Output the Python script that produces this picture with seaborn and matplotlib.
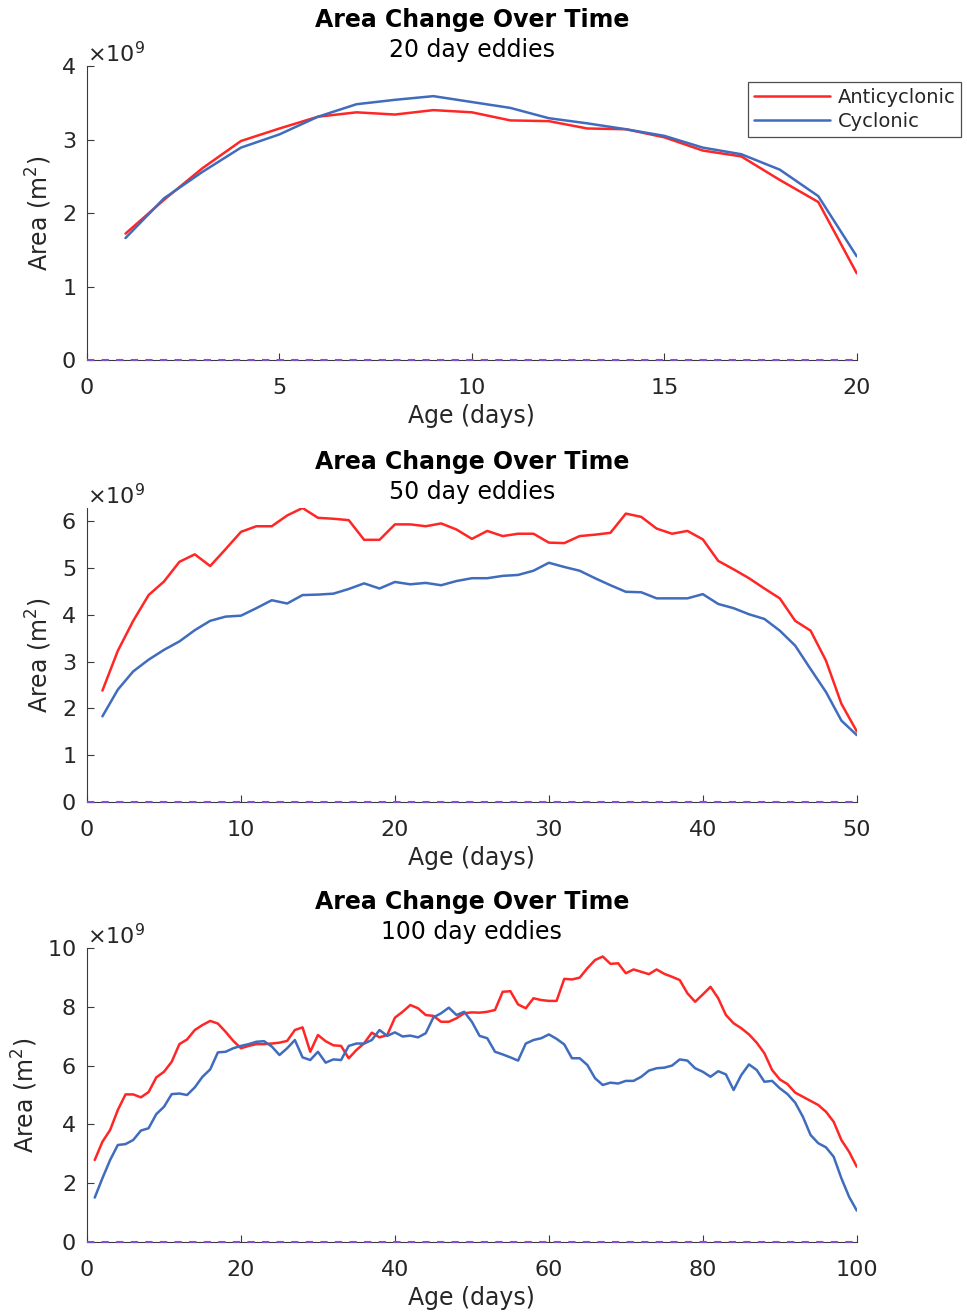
import numpy as np
import pandas as pd
import matplotlib
matplotlib.use("Agg")
import matplotlib.pyplot as plt
from matplotlib.ticker import ScalarFormatter
import seaborn as sns

# Mean eddy area (units of 1e9 m^2) by age, for three lifetime classes
days_20 = list(range(1, 21))
anti_20 = [1.72, 2.18, 2.61, 2.98, 3.15, 3.31, 3.37, 3.34, 3.40, 3.37,
           3.26, 3.25, 3.15, 3.14, 3.03, 2.85, 2.77, 2.45, 2.15, 1.18]
cyc_20 = [1.66, 2.20, 2.56, 2.89, 3.07, 3.31, 3.48, 3.54, 3.59, 3.51,
          3.43, 3.29, 3.22, 3.14, 3.05, 2.89, 2.80, 2.59, 2.23, 1.41]

days_50 = list(range(1, 51))
anti_50 = [2.38, 3.23, 3.87, 4.42, 4.71, 5.13, 5.29, 5.04, 5.40, 5.77,
           5.89, 5.89, 6.12, 6.28, 6.07, 6.05, 6.02, 5.60, 5.60, 5.93,
           5.93, 5.89, 5.95, 5.82, 5.62, 5.79, 5.68, 5.73, 5.73, 5.54,
           5.53, 5.68, 5.71, 5.75, 6.16, 6.09, 5.84, 5.73, 5.79, 5.61,
           5.15, 4.97, 4.78, 4.56, 4.35, 3.87, 3.66, 3.02, 2.10, 1.51]
cyc_50 = [1.83, 2.40, 2.79, 3.04, 3.25, 3.43, 3.67, 3.87, 3.96, 3.98,
          4.14, 4.31, 4.24, 4.42, 4.43, 4.45, 4.55, 4.67, 4.56, 4.70,
          4.65, 4.68, 4.63, 4.72, 4.78, 4.78, 4.83, 4.85, 4.94, 5.11,
          5.02, 4.94, 4.78, 4.63, 4.49, 4.48, 4.35, 4.35, 4.35, 4.44,
          4.23, 4.14, 4.01, 3.91, 3.66, 3.34, 2.84, 2.35, 1.74, 1.43]

days_100 = list(range(1, 101))
anti_100 = [2.79, 3.41, 3.81, 4.49, 5.02, 5.02, 4.92, 5.10, 5.60, 5.79,
            6.13, 6.73, 6.89, 7.21, 7.38, 7.52, 7.43, 7.15, 6.84, 6.59,
            6.67, 6.73, 6.73, 6.75, 6.78, 6.84, 7.21, 7.30, 6.47, 7.04,
            6.83, 6.69, 6.67, 6.25, 6.53, 6.76, 7.12, 6.96, 7.04, 7.63,
            7.83, 8.06, 7.95, 7.72, 7.69, 7.49, 7.49, 7.61, 7.78, 7.81,
            7.80, 7.83, 7.89, 8.51, 8.53, 8.08, 7.95, 8.29, 8.23, 8.20,
            8.20, 8.95, 8.93, 8.99, 9.31, 9.59, 9.71, 9.46, 9.48, 9.14,
            9.27, 9.19, 9.11, 9.27, 9.12, 9.02, 8.91, 8.46, 8.17, 8.42,
            8.68, 8.29, 7.72, 7.44, 7.27, 7.06, 6.78, 6.42, 5.85, 5.53,
            5.37, 5.08, 4.94, 4.80, 4.66, 4.43, 4.09, 3.47, 3.07, 2.56]
cyc_100 = [1.51, 2.17, 2.79, 3.30, 3.33, 3.47, 3.79, 3.87, 4.35, 4.60,
           5.03, 5.05, 5.00, 5.26, 5.62, 5.87, 6.45, 6.47, 6.59, 6.67,
           6.73, 6.81, 6.83, 6.65, 6.36, 6.59, 6.87, 6.28, 6.19, 6.47,
           6.10, 6.21, 6.19, 6.67, 6.75, 6.75, 6.87, 7.21, 7.01, 7.13,
           6.99, 7.02, 6.96, 7.10, 7.64, 7.78, 7.97, 7.72, 7.83, 7.49,
           7.01, 6.93, 6.47, 6.38, 6.28, 6.17, 6.75, 6.87, 6.93, 7.06,
           6.91, 6.72, 6.25, 6.25, 6.02, 5.57, 5.34, 5.42, 5.39, 5.48,
           5.48, 5.62, 5.83, 5.91, 5.93, 6.00, 6.21, 6.17, 5.91, 5.79,
           5.62, 5.81, 5.70, 5.17, 5.68, 6.04, 5.85, 5.45, 5.48, 5.23,
           5.03, 4.74, 4.26, 3.64, 3.36, 3.22, 2.90, 2.17, 1.54, 1.07]

series_names = ["Anticyclonic", "Cyclonic"]
panel_labels = ["20 day eddies", "50 day eddies", "100 day eddies"]
x_ticks = [[0, 5, 10, 15, 20], [0, 10, 20, 30, 40, 50], [0, 20, 40, 60, 80, 100]]
y_ticks = [[0, 1, 2, 3, 4], [0, 1, 2, 3, 4, 5, 6], [0, 2, 4, 6, 8, 10]]
y_tops = [4.0, 6.28, 10.0]

panels = [(days_20, anti_20, cyc_20),
          (days_50, anti_50, cyc_50),
          (days_100, anti_100, cyc_100)]

sns.set_style("white")
plt.rcParams["font.family"] = ["DejaVu Sans"]
plt.rcParams["axes.unicode_minus"] = False

RED = "#ff2626"
BLUE = "#3f6cbd"
PURPLE = "#8050d0"
AXIS_GREY = "#3a3a3a"
TEXT_GREY = "#262626"
LW = 1.8

fig = plt.figure(figsize=(9.67, 13.15), dpi=100)
left, width = 0.090, 0.796
bottoms = [0.7262, 0.3901, 0.0555]
height = 0.2236

for i, (days, anti, cyc) in enumerate(panels):
    ax = fig.add_axes([left, bottoms[i], width, height])
    scale = 1e9
    df = pd.DataFrame({
        "age": list(days) * 2,
        "area": [v * scale for v in anti] + [v * scale for v in cyc],
        "type": [series_names[0]] * len(days) + [series_names[1]] * len(days),
    })
    sns.lineplot(data=df, x="age", y="area", hue="type",
                 palette={series_names[0]: RED, series_names[1]: BLUE},
                 linewidth=LW, ax=ax, legend=False)
    # zero reference line, drawn over the bottom spine
    ax.axhline(0, color=PURPLE, linestyle=(0, (3.5, 3.5)), linewidth=1.5,
               zorder=5, clip_on=False)

    xmax = x_ticks[i][-1]
    ax.set_xlim(0, xmax)
    ax.set_ylim(0, y_tops[i] * scale)
    ax.set_xticks(x_ticks[i])
    ax.set_yticks([t * scale for t in y_ticks[i]])

    fmt = ScalarFormatter(useMathText=True)
    fmt.set_powerlimits((9, 9))
    ax.yaxis.set_major_formatter(fmt)
    ax.yaxis.get_offset_text().set_fontsize(16)
    ax.yaxis.get_offset_text().set_color(TEXT_GREY)

    for side in ["top", "right"]:
        ax.spines[side].set_visible(False)
    for side in ["left", "bottom"]:
        ax.spines[side].set_color(AXIS_GREY)
        ax.spines[side].set_linewidth(0.8)
    ax.tick_params(direction="in", length=5, width=0.8, color=AXIS_GREY,
                   labelsize=16, labelcolor=TEXT_GREY,
                   left=True, bottom=True)
    ax.tick_params(axis="x", pad=13)
    ax.tick_params(axis="y", pad=8)

    ax.set_xlabel("Age (days)", fontsize=17, color=TEXT_GREY, labelpad=4)
    ax.set_ylabel("Area (m$^2$)", fontsize=17, color=TEXT_GREY, labelpad=5)

    ax.annotate("Area Change Over Time", xy=(0.5, 1.0), xycoords="axes fraction",
                xytext=(0, 33), textcoords="offset points", ha="center", va="center",
                fontsize=17, fontweight="bold", color="black")
    ax.annotate(panel_labels[i], xy=(0.5, 1.0), xycoords="axes fraction",
                xytext=(0, 11.5), textcoords="offset points", ha="center", va="center",
                fontsize=17, color="black")

    if i == 0:
        handles = [plt.Line2D([], [], color=RED, linewidth=LW),
                   plt.Line2D([], [], color=BLUE, linewidth=LW)]
        leg = ax.legend(handles, series_names, loc="upper left",
                        bbox_to_anchor=(0.7735, 0.9376),
                        bbox_transform=fig.transFigure, borderaxespad=0,
                        fontsize=14, frameon=True, fancybox=False,
                        handlelength=3.9, handletextpad=0.4,
                        borderpad=0.3, labelspacing=0.25)
        leg.get_frame().set_edgecolor("#222222")
        leg.get_frame().set_linewidth(0.9)
        for t in leg.get_texts():
            t.set_color(TEXT_GREY)

fig.savefig("out.png", dpi=100)
